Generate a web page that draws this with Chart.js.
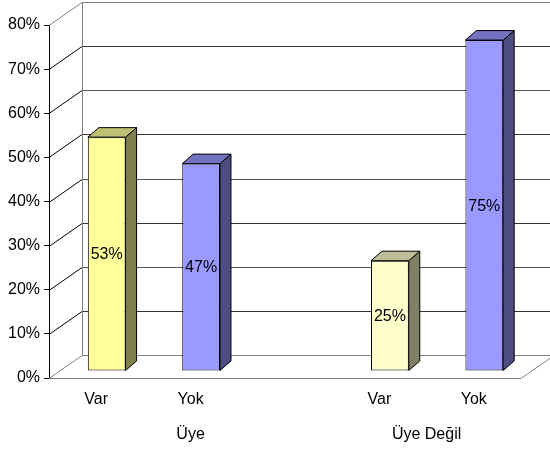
<!DOCTYPE html>
<html>
<head>
<meta charset="utf-8">
<script src="https://cdn.jsdelivr.net/npm/chart.js@4/dist/chart.umd.min.js"></script>
<style>
  html, body { margin: 0; padding: 0; background: #ffffff; }
  canvas { display: block; }
</style>
</head>
<body>
<canvas id="chart" width="550" height="451"></canvas>
<script>
// Membership vs. presence shares, grouped by membership
const categories = ['Var', 'Yok', '', 'Var', 'Yok'];
const groupLabels = ['Üye', 'Üye Değil'];
const groupSpans = [[0, 2], [3, 4]];
const shares = [0.53, 0.47, null, 0.25, 0.75];
const yMax = 0.8;
const yStep = 0.1;

// Face colours per category: front, right side, top
const frontColors = ['#FFFF99', '#9999FF', '#FFFFFF', '#FFFFCC', '#9999FF'];
const sideColors  = ['#80804D', '#4D4D80', '#808080', '#808066', '#4D4D80'];
const topColors   = ['#BFBF73', '#7373BF', '#BFBFBF', '#BFBF99', '#7373BF'];

const FONT = '"Liberation Sans", Arial, sans-serif';

// Oblique depth of the plot box and of each bar
const WALL_DX = 33, WALL_DY = -23;
const BAR_SHIFT_X = 10.5, BAR_SHIFT_Y = -7;
const BAR_DEPTH_X = 11, BAR_DEPTH_Y = -9.5;

const depth3d = {
  id: 'depth3d',
  afterDatasetsUpdate(chart) {
    // move the bars back into the middle depth plane
    chart.getDatasetMeta(0).data.forEach(el => {
      el.x += BAR_SHIFT_X;
      el.y += BAR_SHIFT_Y;
      el.base += BAR_SHIFT_Y;
    });
  },
  beforeDatasetsDraw(chart) {
    const { ctx, chartArea: a, scales: { y } } = chart;
    ctx.save();
    ctx.lineWidth = 1;
    const ticks = [];
    for (let v = 0; v <= yMax + 1e-9; v += yStep) ticks.push(v);
    // back wall grid lines and left wall diagonals
    ticks.forEach((v, i) => {
      const py = Math.round(y.getPixelForValue(v)) + 0.5;
      const edge = (i === 0 || i === ticks.length - 1);
      ctx.strokeStyle = edge ? '#808080' : (i % 2 ? '#333333' : '#555555');
      ctx.beginPath();
      ctx.moveTo(a.left + WALL_DX, py + WALL_DY);
      ctx.lineTo(a.right + WALL_DX, py + WALL_DY);
      ctx.stroke();
      ctx.strokeStyle = edge ? '#808080' : '#000000';
      ctx.beginPath();
      ctx.moveTo(a.left, py);
      ctx.lineTo(a.left + WALL_DX, py + WALL_DY);
      ctx.stroke();
    });
    const top = Math.round(y.getPixelForValue(yMax)) + 0.5;
    const bottom = Math.round(y.getPixelForValue(0)) + 0.5;
    ctx.strokeStyle = '#808080';
    // back wall left edge
    ctx.beginPath();
    ctx.moveTo(Math.round(a.left + WALL_DX) + 0.5, top + WALL_DY);
    ctx.lineTo(Math.round(a.left + WALL_DX) + 0.5, bottom + WALL_DY);
    ctx.stroke();
    // floor front edge and right edge
    ctx.beginPath();
    ctx.moveTo(a.left, bottom);
    ctx.lineTo(a.right, bottom);
    ctx.lineTo(a.right + WALL_DX, bottom + WALL_DY);
    ctx.stroke();
    ctx.restore();
  },
  afterDatasetsDraw(chart) {
    const { ctx, scales: { x } } = chart;
    const meta = chart.getDatasetMeta(0);
    ctx.save();
    ctx.lineWidth = 1;
    ctx.strokeStyle = '#000000';
    ctx.lineJoin = 'miter';
    meta.data.forEach((el, i) => {
      if (shares[i] === null) return;
      const p = el.getProps(['x', 'y', 'base', 'width'], true);
      const l = p.x - p.width / 2, r = p.x + p.width / 2;
      const t = p.y, b = p.base;
      // right side
      ctx.fillStyle = sideColors[i];
      ctx.beginPath();
      ctx.moveTo(r, t);
      ctx.lineTo(r + BAR_DEPTH_X, t + BAR_DEPTH_Y);
      ctx.lineTo(r + BAR_DEPTH_X, b + BAR_DEPTH_Y);
      ctx.lineTo(r, b);
      ctx.closePath();
      ctx.fill();
      ctx.stroke();
      // top
      ctx.fillStyle = topColors[i];
      ctx.beginPath();
      ctx.moveTo(l, t);
      ctx.lineTo(l + BAR_DEPTH_X, t + BAR_DEPTH_Y);
      ctx.lineTo(r + BAR_DEPTH_X, t + BAR_DEPTH_Y);
      ctx.lineTo(r, t);
      ctx.closePath();
      ctx.fill();
      ctx.stroke();
      // value label on the front face
      ctx.fillStyle = '#000000';
      ctx.font = '16px ' + FONT;
      ctx.textAlign = 'center';
      ctx.textBaseline = 'middle';
      ctx.fillText(Math.round(shares[i] * 100) + '%', p.x, (t + b) / 2 + 1);
    });
    // group labels under the category labels
    ctx.fillStyle = '#000000';
    ctx.font = '16px ' + FONT;
    ctx.textAlign = 'center';
    ctx.textBaseline = 'middle';
    groupLabels.forEach((g, k) => {
      const [from, to] = groupSpans[k];
      const cx = (x.getPixelForValue(from) + x.getPixelForValue(to)) / 2;
      ctx.fillText(g, cx, 435);
    });
    ctx.restore();
  }
};

new Chart(document.getElementById('chart'), {
  type: 'bar',
  data: {
    labels: categories,
    datasets: [{
      data: shares,
      backgroundColor: frontColors,
      borderColor: '#000000',
      borderWidth: 1,
      borderSkipped: false,
      barPercentage: 0.4,
      categoryPercentage: 1
    }]
  },
  options: {
    responsive: false,
    devicePixelRatio: 1,
    animation: false,
    events: [],
    layout: { padding: { top: 25, right: 29, left: 0, bottom: 0 } },
    plugins: { legend: { display: false }, tooltip: { enabled: false } },
    scales: {
      x: {
        offset: true,
        grid: { display: false },
        border: { display: false },
        ticks: {
          color: '#000000',
          font: { size: 16, family: FONT },
          padding: 4,
          autoSkip: false,
          maxRotation: 0
        },
        afterFit(s) { s.height = 73; }
      },
      y: {
        min: 0,
        max: yMax,
        ticks: {
          stepSize: yStep,
          color: '#000000',
          font: { size: 16, family: FONT },
          padding: 4,
          callback: v => Math.round(v * 100) + '%'
        },
        grid: { drawOnChartArea: false, drawTicks: true, tickLength: 5, color: '#000000' },
        border: { display: true, color: '#000000' },
        afterFit(s) { s.width = 49; }
      }
    }
  },
  plugins: [depth3d]
});
</script>
</body>
</html>
